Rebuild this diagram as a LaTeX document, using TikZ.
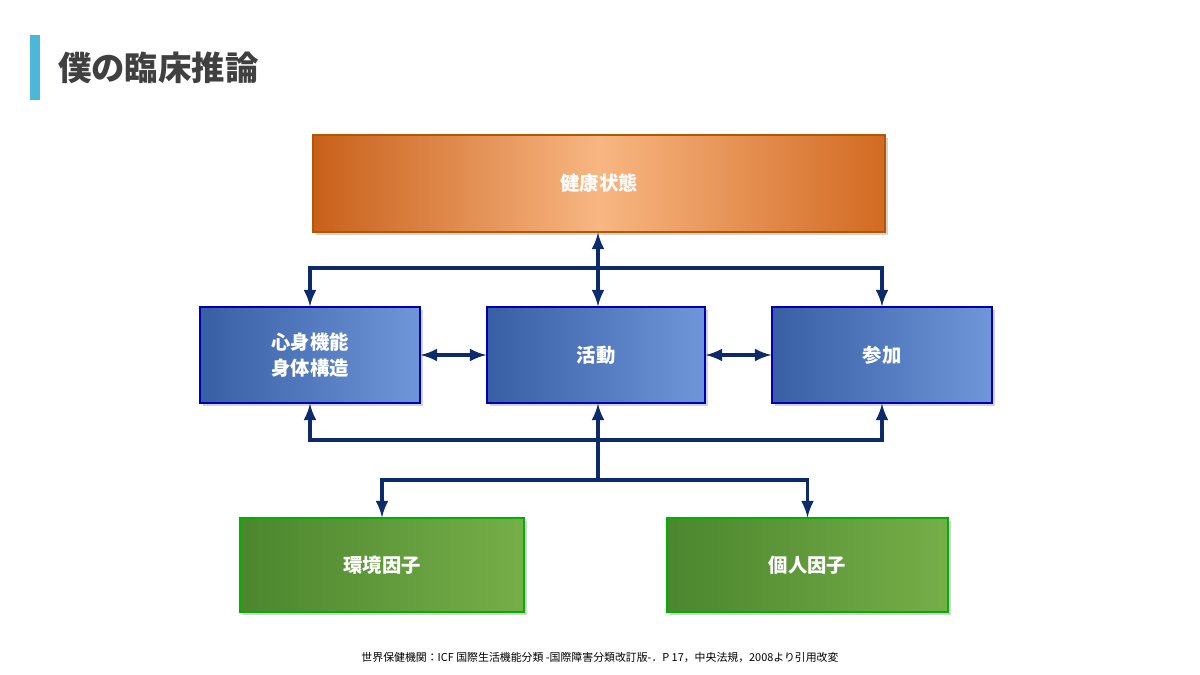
\documentclass[tikz,border=0pt]{standalone}
\usepackage{fontspec}
\setmainfont{Noto Sans CJK JP}
\usetikzlibrary{shadows}

\definecolor{navy}{HTML}{0D2A6B}
\definecolor{barblue}{HTML}{4BB8DA}
\definecolor{titlegray}{HTML}{404040}

\begin{document}
\begin{tikzpicture}[
  x = 0.02cm, y = -0.02cm,
  box/.style = {draw = #1!70!black, line width = 0.6pt, inner sep = 0pt,
    drop shadow = {opacity = 0.35, shadow xshift = 0.06cm, shadow yshift = -0.06cm},
    text = white, font = \bfseries\fontsize{11}{15}\selectfont, align = center},
  orangebox/.style = {box = orange, left color = {rgb,255:red,200;green,96;blue,26},
    right color = {rgb,255:red,210;green,106;blue,34}, middle color = {rgb,255:red,248;green,182;blue,130}},
  bluebox/.style = {box = blue, left color = {rgb,255:red,56;green,94;blue,164},
    right color = {rgb,255:red,110;green,150;blue,216}},
  greenbox/.style = {box = green, left color = {rgb,255:red,76;green,134;blue,46},
    right color = {rgb,255:red,118;green,174;blue,72}},
  link/.style = {draw = navy, line width = 2.2pt, -latex},
  ]

  \useasboundingbox (0, 0) rectangle (1200, 675);

  % title
  \fill [barblue] (30, 35) rectangle (40, 100);
  \node [anchor = west, text = titlegray, font = \bfseries\fontsize{19}{22}\selectfont, name = Title]
    at (52, 68) {僕の臨床推論};

  % boxes
  \node [orangebox, minimum width = 572*0.02cm, minimum height = 97*0.02cm, name = Health]
    at (599, 183.5) {健康状態};
  \node [bluebox, minimum width = 220*0.02cm, minimum height = 96*0.02cm, name = Body]
    at (310, 355) {心身機能\\身体構造};
  \node [bluebox, minimum width = 218*0.02cm, minimum height = 96*0.02cm, name = Activity]
    at (596, 355) {活動};
  \node [bluebox, minimum width = 220*0.02cm, minimum height = 96*0.02cm, name = Participation]
    at (882, 355) {参加};
  \node [greenbox, minimum width = 284*0.02cm, minimum height = 94*0.02cm, name = Environment]
    at (382, 565) {環境因子};
  \node [greenbox, minimum width = 281*0.02cm, minimum height = 94*0.02cm, name = Personal]
    at (807.5, 565) {個人因子};

  % connectors
  \coordinate (TopBus) at (598, 268);
  \coordinate (LowBus) at (598, 440);
  \coordinate (Fork) at (598, 480);

  \draw [link, latex-latex] (Health.south -| TopBus) to (Activity.north -| TopBus);
  \draw [link] (TopBus) -| (Body.north);
  \draw [link] (TopBus) -| (Participation.north);

  \draw [link, latex-latex] (Body) to (Activity);
  \draw [link, latex-latex] (Activity) to (Participation);

  \draw [link] (Fork) to (Activity.south -| Fork);
  \draw [link] (LowBus) -| (Body.south);
  \draw [link] (LowBus) -| (Participation.south);
  \draw [link] (Fork) -| (Environment.north);
  \draw [link] (Fork) -| (Personal.north);

  % source
  \node [font = \fontsize{6.2}{7}\selectfont, name = Source] at (600, 657)
    {世界保健機関：ICF 国際生活機能分類 -国際障害分類改訂版-．P 17，中央法規，2008より引用改変};

\end{tikzpicture}
\end{document}
